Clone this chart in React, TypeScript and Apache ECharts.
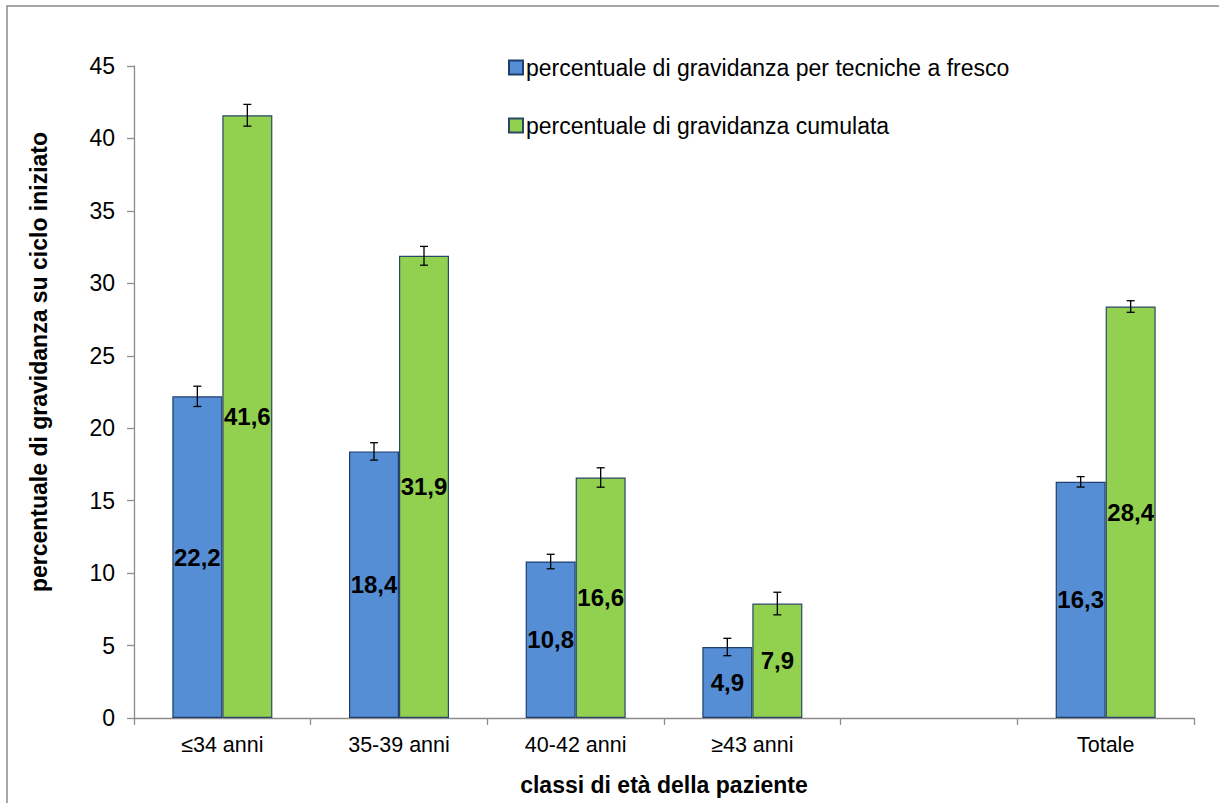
import React, { useEffect, useRef } from "react";
import * as echarts from "echarts";

const categories = ["≤34 anni", "35-39 anni", "40-42 anni", "≥43 anni", "", "Totale"];
const freshValues = [22.2, 18.4, 10.8, 4.9, null, 16.3];
const cumulValues = [41.6, 31.9, 16.6, 7.9, null, 28.4];
const freshErr = [0.7, 0.6, 0.5, 0.6, null, 0.36];
const cumulErr = [0.75, 0.65, 0.67, 0.78, null, 0.4];
const seriesNames = [
  "percentuale di gravidanza per tecniche a fresco",
  "percentuale di gravidanza cumulata",
];
const yTitle = "percentuale di gravidanza su ciclo iniziato";
const xTitle = "classi di età della paziente";

const FONT = "'Liberation Sans', Arial, sans-serif";
const BAR_W = 50;

function errData(vals: (number | null)[], errs: (number | null)[]) {
  const out: any[] = [];
  vals.forEach((v, i) => {
    if (v != null && errs[i] != null) out.push([i, v, errs[i]]);
  });
  return out;
}

function makeErrRender(offset: number) {
  return (params: any, api: any) => {
    const i = api.value(0);
    const v = api.value(1);
    const e = api.value(2);
    const top = api.coord([i, v + e]);
    const bot = api.coord([i, v - e]);
    const x = top[0] + offset;
    const cap = 4;
    const style = { stroke: "#000", lineWidth: 1.3 };
    return {
      type: "group",
      children: [
        { type: "line", shape: { x1: x, y1: top[1], x2: x, y2: bot[1] }, style },
        { type: "line", shape: { x1: x - cap, y1: top[1], x2: x + cap, y2: top[1] }, style },
        { type: "line", shape: { x1: x - cap, y1: bot[1], x2: x + cap, y2: bot[1] }, style },
      ],
    };
  };
}

const fmt = (p: any) => (p.value == null ? "" : String(p.value.toFixed(1)).replace(".", ","));

export default function App() {
  const ref = useRef<HTMLDivElement>(null);
  useEffect(() => {
    if (!ref.current) return;
    const chart = echarts.init(ref.current, null, { renderer: "svg" });
    const labelCfg = {
      show: true,
      position: "inside",
      formatter: fmt,
      color: "#000",
      fontFamily: FONT,
      fontWeight: "bold",
      fontSize: 24,
    };
    chart.setOption({
      animation: false,
      backgroundColor: "#fff",
      textStyle: { fontFamily: FONT },
      graphic: [
        {
          type: "rect",
          shape: { x: 7, y: 6, width: 1260, height: 860 },
          style: { fill: "none", stroke: "#8a8a8a", lineWidth: 1.5 },
          silent: true,
        },
        {
          type: "text",
          x: 39,
          y: 362,
          rotation: Math.PI / 2,
          style: {
            text: yTitle,
            fontFamily: FONT,
            fontSize: 23,
            fontWeight: "bold",
            fill: "#000",
            align: "center",
            verticalAlign: "middle",
          },
          silent: true,
        },
      ],
      legend: {
        orient: "vertical",
        left: 503,
        top: 51,
        itemGap: 35,
        itemWidth: 14,
        itemHeight: 14,
        icon: "rect",
        data: seriesNames,
        textStyle: { fontFamily: FONT, fontSize: 23, color: "#000", padding: [0, 0, 0, -2] },
      },
      grid: { left: 134, right: 25, top: 66, bottom: 85 },
      xAxis: {
        type: "category",
        data: categories,
        name: xTitle,
        nameLocation: "middle",
        nameGap: 55,
        nameTextStyle: { fontFamily: FONT, fontSize: 23, fontWeight: "bold", color: "#000" },
        axisLine: { lineStyle: { color: "#8c8c8c", width: 1.3 } },
        axisTick: { show: true, interval: 0, length: 7, lineStyle: { color: "#8c8c8c", width: 1.3 } },
        axisLabel: { interval: 0, margin: 16, fontFamily: FONT, fontSize: 21.5, color: "#000" },
      },
      yAxis: {
        type: "value",
        min: 0,
        max: 45,
        interval: 5,
        axisLine: { show: true, lineStyle: { color: "#8c8c8c", width: 1.3 } },
        axisTick: { show: true, length: 7, lineStyle: { color: "#8c8c8c", width: 1.3 } },
        axisLabel: { margin: 19, fontFamily: FONT, fontSize: 23, color: "#000" },
        splitLine: { show: false },
      },
      series: [
        {
          name: seriesNames[0],
          type: "bar",
          data: freshValues,
          barWidth: BAR_W,
          barGap: "0%",
          itemStyle: { color: "#558ED5", borderColor: "#1F3E6E", borderWidth: 1.2 },
          label: labelCfg,
        },
        {
          name: seriesNames[1],
          type: "bar",
          data: cumulValues,
          barWidth: BAR_W,
          barGap: "0%",
          itemStyle: { color: "#92D050", borderColor: "#2B4766", borderWidth: 1.2 },
          label: labelCfg,
        },
        {
          type: "custom",
          name: "errFresh",
          renderItem: makeErrRender(-BAR_W / 2),
          data: errData(freshValues, freshErr),
          encode: { x: 0, y: 1 },
          z: 5,
          silent: true,
        },
        {
          type: "custom",
          name: "errCumul",
          renderItem: makeErrRender(BAR_W / 2),
          data: errData(cumulValues, cumulErr),
          encode: { x: 0, y: 1 },
          z: 5,
          silent: true,
        },
      ],
    });
    return () => chart.dispose();
  }, []);
  return (
    <div
      ref={ref}
      style={{ position: "fixed", left: 0, top: 0, width: 1219, height: 803, background: "#fff" }}
    />
  );
}
